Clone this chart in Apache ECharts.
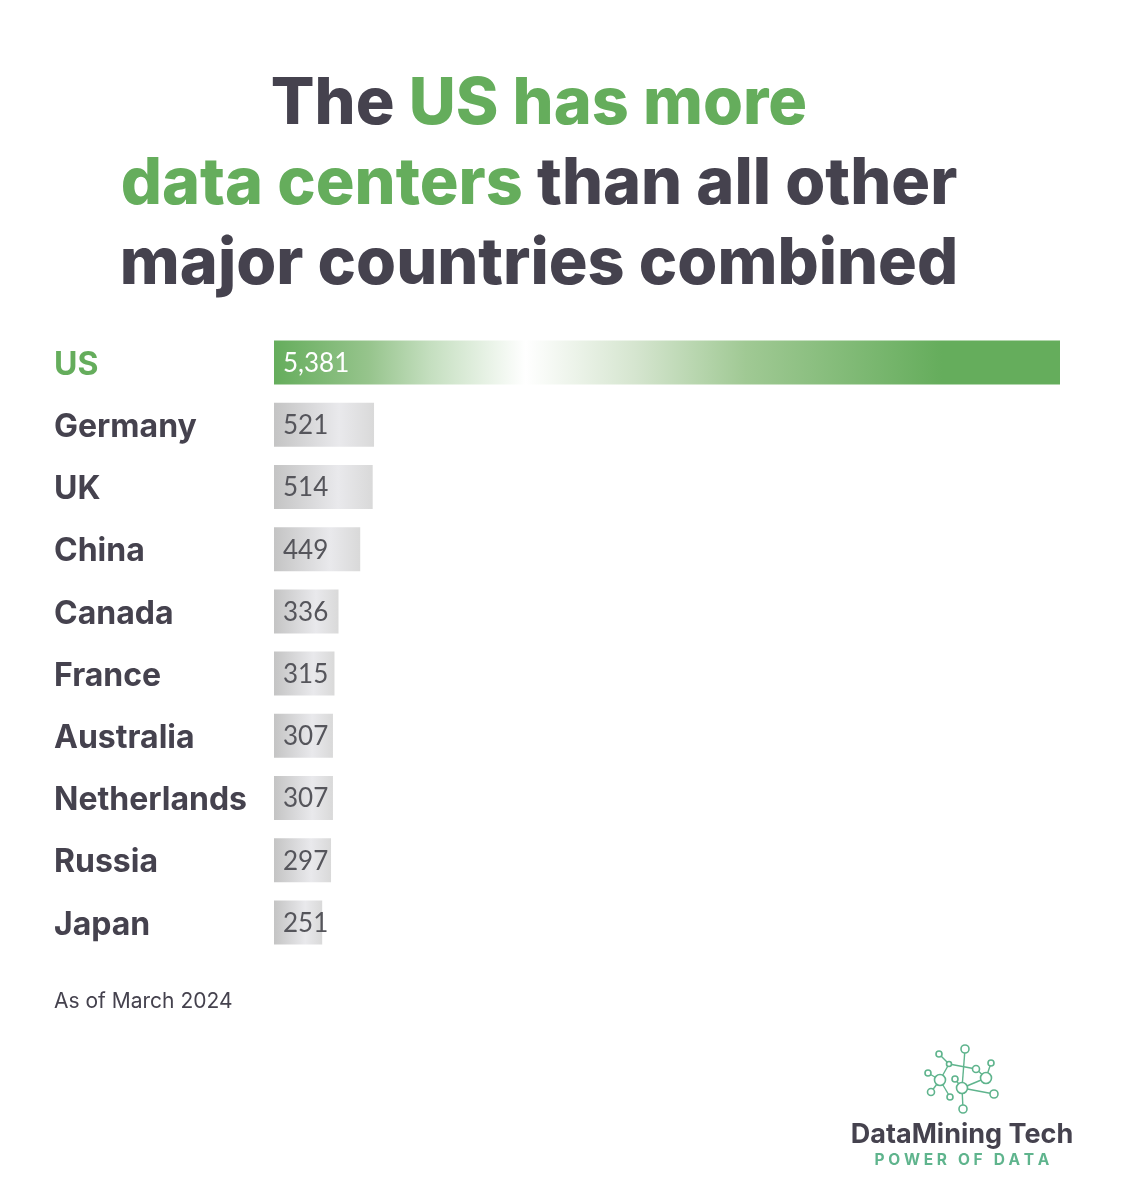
<!DOCTYPE html>
<html>
<head>
<meta charset="utf-8">
<title>US data centers</title>
<script src="https://cdn.jsdelivr.net/npm/echarts@6/dist/echarts.min.js"></script>
<style>
  html, body { margin: 0; padding: 0; background: #fff; }
  #chart { width: 1123px; height: 1200px; }
</style>
</head>
<body>
<div id="chart"></div>
<script>
const countries = ["US", "Germany", "UK", "China", "Canada", "France", "Australia", "Netherlands", "Russia", "Japan"];
const dataCenters = [5381, 521, 514, 449, 336, 315, 307, 307, 297, 251];

const GREEN = "#65ad5c";
const DARK = "#45424e";
const TEAL = "#5fb48d";

// logo network, pixel positions on the page
const logoNodes = [
  [965, 1049, 4], [939, 1054, 3], [949, 1064, 2.5], [976, 1069, 3.5], [991, 1063, 3],
  [986, 1078, 5.5], [928, 1073, 3], [940, 1080, 5.5], [955, 1079, 3], [962, 1088, 5.5],
  [931, 1092, 3.5], [950, 1097, 3], [994, 1094, 4], [963, 1109, 4]
];
const logoEdges = [
  [0, 9], [1, 2], [2, 3], [2, 7], [3, 5], [4, 5], [6, 7], [7, 10], [7, 11], [8, 9], [9, 5], [9, 12], [9, 13]
];

const chart = echarts.init(document.getElementById("chart"));

const usBar = new echarts.graphic.LinearGradient(0, 0, 1, 0, [
  { offset: 0, color: GREEN },
  { offset: 0.12, color: "#96c48c" },
  { offset: 0.2, color: "#c5dfc0" },
  { offset: 0.32, color: "#ffffff" },
  { offset: 0.46, color: "#d5e5cf" },
  { offset: 0.6, color: "#a0c994" },
  { offset: 0.85, color: GREEN },
  { offset: 1, color: GREEN }
]);
const otherBar = new echarts.graphic.LinearGradient(0, 0, 1, 0, [
  { offset: 0, color: "#c4c4c4" },
  { offset: 0.65, color: "#e9e9ec" },
  { offset: 1, color: "#d9d9d9" }
]);

const logoGraphic = [
  ...logoEdges.map(([a, b]) => ({
    type: "line",
    shape: { x1: logoNodes[a][0], y1: logoNodes[a][1], x2: logoNodes[b][0], y2: logoNodes[b][1] },
    style: { stroke: TEAL, lineWidth: 1.4 }
  })),
  ...logoNodes.map(([x, y, r]) => ({
    type: "circle",
    shape: { cx: x, cy: y, r: r },
    style: { fill: "#fff", stroke: TEAL, lineWidth: 1.6 }
  }))
];

const labelFont = { fontFamily: "Inter", fontWeight: 700, fontSize: 32, padding: [5, 0, 0, 0] };

chart.setOption({
  backgroundColor: "#fff",
  animation: false,
  title: {
    left: 534,
    top: 60,
    textAlign: "center",
    text: "{d|The }{g|US has more}\n{g|data centers}{d| than all other}\n{d|major countries combined}",
    textStyle: {
      rich: {
        d: { fontFamily: "Inter", fontWeight: 800, fontSize: 64.7, lineHeight: 80, color: DARK },
        g: { fontFamily: "Inter", fontWeight: 800, fontSize: 64.7, lineHeight: 80, color: GREEN }
      }
    }
  },
  grid: { left: 274, right: 63, top: 331.5, height: 622 },
  xAxis: {
    type: "value",
    min: 0,
    max: 5381,
    show: false,
    splitLine: { show: false },
    // the reference's bars are not to one scale: the long US bar is cut short
    breaks: [{ start: 600, end: 1887, gap: 0 }],
    breakArea: { show: false }
  },
  yAxis: {
    type: "category",
    inverse: true,
    data: countries,
    axisLine: { show: false },
    axisTick: { show: false },
    axisLabel: {
      margin: 220,
      align: "left",
      formatter: (name) => (name === "US" ? `{us|${name}}` : `{other|${name}}`),
      rich: {
        us: { ...labelFont, color: GREEN },
        other: { ...labelFont, color: DARK }
      }
    }
  },
  series: [
    {
      type: "bar",
      barWidth: 44,
      data: dataCenters.map((v, i) => ({
        value: v,
        itemStyle: { color: i === 0 ? usBar : otherBar },
        label: { color: i === 0 ? "#fff" : "#55555b" }
      })),
      label: {
        show: true,
        position: "insideLeft",
        distance: 9,
        offset: [0, 1],
        fontFamily: "Lato",
        fontSize: 26,
        formatter: (p) => p.value.toLocaleString("en-US")
      }
    }
  ],
  graphic: [
    {
      type: "text",
      x: 54,
      y: 991,
      style: { text: "As of March 2024", fontFamily: "Inter", fontSize: 21, fill: DARK }
    },
    ...logoGraphic,
    {
      type: "text",
      x: 962,
      y: 1121,
      style: { text: "DataMining Tech", fontFamily: "Inter", fontWeight: 700, fontSize: 27, fill: DARK, textAlign: "center" }
    },
    {
      type: "text",
      x: 962,
      y: 1152,
      style: { text: "P O W E R   O F   D A T A", fontFamily: "Inter", fontWeight: 700, fontSize: 15.5, fill: TEAL, textAlign: "center" }
    }
  ]
});
</script>
</body>
</html>
